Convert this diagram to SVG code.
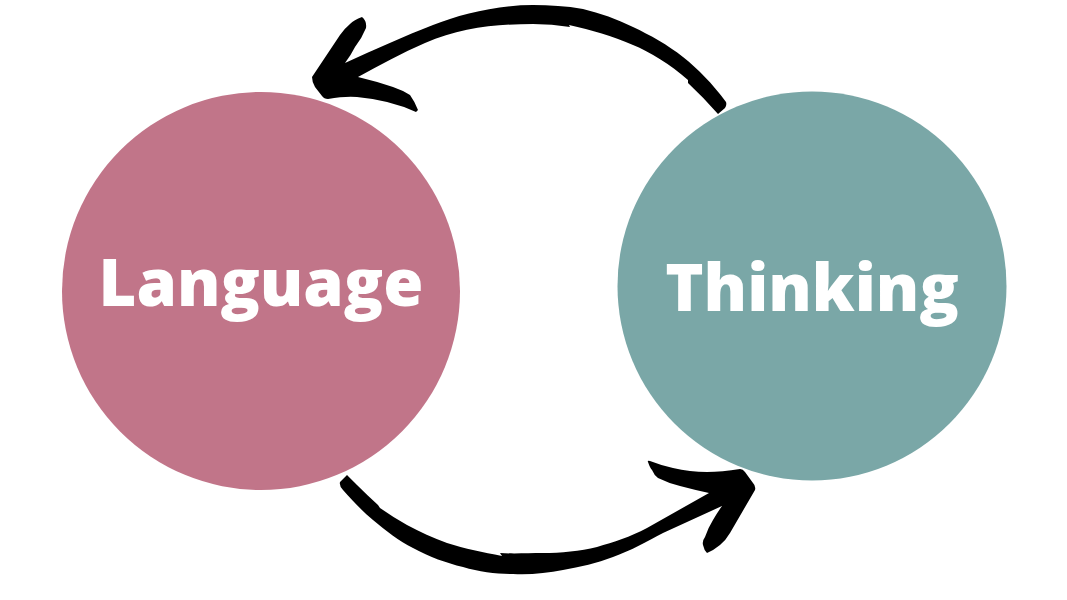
<svg xmlns="http://www.w3.org/2000/svg" width="1067" height="600" viewBox="0 0 1067 600">
<style>.t{font-family:"Open Sans","Noto Sans",sans-serif;font-weight:800;fill:#fff;text-anchor:middle;font-size:65px}.c{fill:#000}</style>
<rect width="1067" height="600" fill="#fff"/>
<g id="language"><circle cx="261" cy="291" r="199" fill="#c17589"/><text class="t" x="261" y="305.500">Language</text></g>
<g id="thinking"><circle cx="812" cy="286" r="194.500" fill="#7aa7a7"/><text class="t" x="812" y="311">Thinking</text></g>
<g id="connectors">
<path class="c" d="M718 114L725 108Q727 105 726 102C712 83 698 69 683 57C668 45 650 35 633 27C617 19 600 13 583 9C566 6 550 5 533 5C498 5 460 14 433 25C405 36 375 49 345 63Q351 55 355 47Q362 38 366 28Q367 21 362 17Q354 20 350 24Q344 29 340 35L312 77Q312 82 315 87L322 96Q324 99 328 99Q345 96 357 97Q390 100 416 112L418 110Q415 102 410 95Q402 90 393 87Q375 81 358 77C380 65 402 53 425 43C460 28 495 24 533 24Q552 24 570 27L569 25C592 30 612 36 633 45C650 52 670 64 688 80L688 83Q703 97 718 114Z"/>
<path class="c" d="M347 475L340 482Q339 486 343 490C352 500 362 511 373 520C386 531 399 541 413 548C430 557 446 563 463 567C480 572 497 574 513 574C530 575 547 573 563 570C580 567 597 563 613 557C630 551 648 541 663 533L722 506Q717 513 713 520Q708 528 705 537Q702 541 703 545Q704 550 707 553Q714 550 720 545Q726 540 730 533L755 490Q756 486 753 483L745 472Q743 469 740 469Q722 472 707 472Q690 472 673 468Q660 465 650 461Q647 460 648 462Q650 468 652 470Q654 475 658 478Q668 483 680 486Q695 490 709 493L647 528C630 537 614 542 597 547C580 551 561 553 543 553C528 553 514 554 500 553L502 556C483 552 465 549 447 543C433 538 420 532 407 525C398 520 389 514 380 508L378 505Q367 495 357 485Z"/>
</g>
</svg>
